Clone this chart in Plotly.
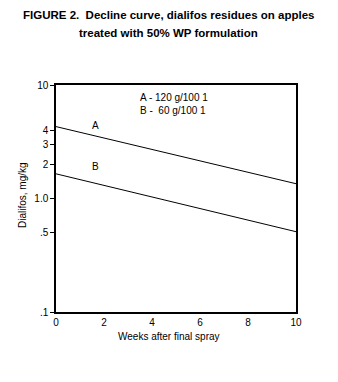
import plotly.graph_objects as go

weeks = [0, 10]
rate_a = [4.3, 1.35]
rate_b = [1.65, 0.51]
ytick_vals = [0.1, 0.5, 1.0, 2, 3, 4, 10]
ytick_text = [".1", ".5", "1.0", "2", "3", "4", "10"]
xtick_vals = [0, 2, 4, 6, 8, 10]

L, R, T, B = 56, 42, 85, 70
W, H = 338, 382
pw, ph = W - L - R, H - T - B

def px(x):
    return (x - L) / pw

def py(y):
    return (H - B - y) / ph

font = "Liberation Sans, Arial, sans-serif"
fig = go.Figure()
for vals in (rate_a, rate_b):
    fig.add_trace(go.Scatter(x=weeks, y=vals, mode="lines",
                             line=dict(color="black", width=1), showlegend=False))

fig.update_layout(
    width=W, height=H, margin=dict(l=L, r=R, t=T, b=B),
    paper_bgcolor="white", plot_bgcolor="white",
    font=dict(family=font, size=10, color="black"),
    xaxis=dict(range=[0, 10], tickvals=xtick_vals, showgrid=False, zeroline=False,
               showline=True, linecolor="black", linewidth=1.5, mirror=True,
               ticks="", tickfont=dict(size=10)),
    yaxis=dict(type="log", range=[-1, 1], tickvals=ytick_vals, ticktext=ytick_text,
               showgrid=False, zeroline=False, showline=True, linecolor="black",
               linewidth=1.5, mirror=True, ticks="outside", ticklen=4,
               tickcolor="black", tickfont=dict(size=10)),
)

ann = [
    dict(text="<b>FIGURE 2.  Decline curve, dialifos residues on apples</b>", x=px(168), y=py(15)),
    dict(text="<b>treated with 50% WP formulation</b>", x=px(168), y=py(33)),
    dict(text="A - 120 g/100 1", x=px(138), y=py(97), xanchor="left"),
    dict(text="B -  60 g/100 1", x=px(138), y=py(110), xanchor="left"),
    dict(text="Weeks after final spray", x=px(169), y=py(336)),
    dict(text="A", x=px(95), y=py(125)),
    dict(text="B", x=px(95), y=py(166)),
]
for a in ann:
    size = 11.5 if a["text"].startswith("<b>") else 10
    fig.add_annotation(xref="paper", yref="paper", showarrow=False,
                       font=dict(size=size, family=font, color="black"),
                       xanchor=a.get("xanchor", "center"), yanchor="middle",
                       text=a["text"], x=a["x"], y=a["y"])
fig.add_annotation(xref="paper", yref="paper", showarrow=False, text="Dialifos, mg/kg",
                   textangle=-90, x=px(22), y=py(195), xanchor="center", yanchor="middle",
                   font=dict(size=10, family=font, color="black"))

fig.write_html("out.html")
